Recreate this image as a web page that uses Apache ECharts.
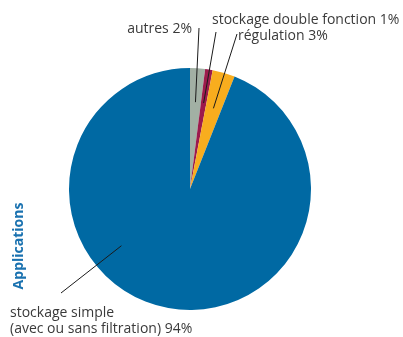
<!DOCTYPE html>
<html>
<head>
<meta charset="utf-8">
<script src="https://cdn.jsdelivr.net/npm/echarts@6/dist/echarts.min.js"></script>
<style>html,body{margin:0;padding:0;background:#fff}#c{width:403px;height:337px}</style>
</head>
<body>
<div id="c"></div>
<script>
const categories = ['autres', 'stockage double fonction', 'régulation', 'stockage simple\n(avec ou sans filtration)'];
const values = [2, 1, 3, 94];
const axisTitle = 'Applications';

const colors = ['#a2b0a4', '#9c1a4c', '#f8ad1e', '#0069a3'];
const CX = 190, CY = 189, R = 121;
// label placement (layout only)
const labelCfg = [
  {x: 192, y: 29, align: 'right', va: 'middle', lineEnd: [199, 28], anchorR: 87},
  {x: 212, y: 20, align: 'left', va: 'middle', lineEnd: [216, 32], anchorR: 87},
  {x: 238, y: 36, align: 'left', va: 'middle', lineEnd: [237, 34], anchorR: 84},
  {x: 10, y: 305, align: 'left', va: 'top', lineEnd: [61, 293], anchorR: 89, anchorFrac: 0.64}
];
const total = values.reduce((a, b) => a + b, 0);
const cum = [];
values.reduce((a, v, i) => { cum[i] = a; return a + v; }, 0);

const pieData = () => categories.map((n, i) => ({name: n, value: values[i], itemStyle: {color: colors[i]}}));

const chart = echarts.init(document.getElementById('c'), null, {renderer: 'canvas'});
chart.setOption({
  animation: false,
  graphic: [{
    type: 'text', x: 19, y: 246, rotation: Math.PI / 2,
    style: {text: axisTitle, font: 'bold 14px "Open Sans"', fill: '#1a72b0', textAlign: 'center', textVerticalAlign: 'middle'}
  }],
  series: [{
    type: 'pie',
    center: [CX, CY],
    radius: R,
    startAngle: 90,
    clockwise: true,
    data: pieData(),
    label: {show: false},
    labelLine: {show: false},
    silent: true,
    z: 2
  }, {
    type: 'pie',
    center: [CX, CY],
    radius: R,
    startAngle: 90,
    clockwise: true,
    avoidLabelOverlap: false,
    silent: true,
    z: 5,
    data: categories.map((n, i) => ({name: n, value: values[i], itemStyle: {color: 'rgba(0,0,0,0)'}})),
    label: {
      show: true,
      formatter: p => p.name + ' ' + p.value + '%',
      fontFamily: 'Open Sans',
      fontSize: 14,
      lineHeight: 16,
      color: '#3a3a3a'
    },
    labelLine: {show: true, lineStyle: {color: '#1a1a1a', width: 1}},
    labelLayout: function (p) {
      const c = labelCfg[p.dataIndex];
      const frac = c.anchorFrac !== undefined ? c.anchorFrac : (cum[p.dataIndex] + values[p.dataIndex] / 2) / total;
      const th = frac * 2 * Math.PI;
      const s = [CX + c.anchorR * Math.sin(th), CY - c.anchorR * Math.cos(th)];
      return {
        x: c.x, y: c.y, align: c.align, verticalAlign: c.va,
        labelLinePoints: [s, c.lineEnd, c.lineEnd]
      };
    },
    emphasis: {disabled: true}
  }]
});
</script>
</body>
</html>
